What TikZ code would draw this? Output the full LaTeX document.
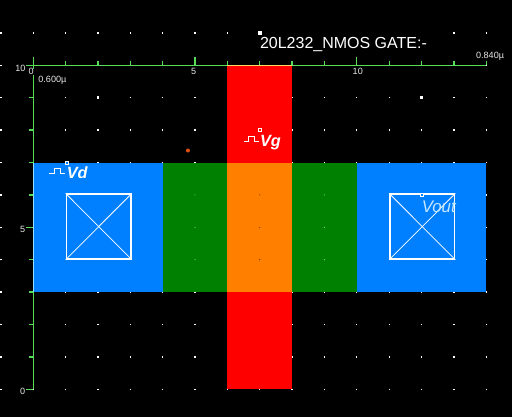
\documentclass[tikz,border=0pt]{standalone}
\usepackage{fontspec}
\setmainfont{Liberation Sans}
\usetikzlibrary{positioning}
\definecolor{difblue}{HTML}{0080FF}
\definecolor{chgreen}{HTML}{008000}
\definecolor{polyred}{HTML}{FF0000}
\definecolor{gateorange}{HTML}{FF8000}
\definecolor{rulergreen}{HTML}{55DD55}
\definecolor{voutblue}{HTML}{C4E8FF}
\definecolor{sparkred}{HTML}{E05010}
\definecolor{labelgrey}{HTML}{E8E8E8}
\begin{document}
\begin{tikzpicture}[
      x=24.26pt, y=24.3pt,
      griddot/.style={fill=white},
      ruler/.style={rulergreen, line width=1pt},
      contactbox/.style={draw=white, line width=1.1pt},
      contactcross/.style={white, line width=0.6pt},
      ticklabel/.style={text=labelgrey, inner sep=0pt, font=\fontsize{6.8}{8}\selectfont},
      portlabel/.style={text=white, inner sep=0pt, anchor=base west,
        font=\fontsize{12.2}{14}\selectfont\bfseries\itshape},
      handle/.style={draw=white, fill=#1, rectangle, inner sep=0pt, minimum size=2.4pt, line width=0.6pt},
      pulse/.pic={\draw[white, line width=0.75pt] (0,0) -- (3.7pt,0) -- (3.7pt,3.8pt)
        -- (8pt,3.8pt) -- (8pt,0) -- (11.7pt,0);}
    ]
      \useasboundingbox[fill=black] (-1.029,-0.855) rectangle (14.797,12.015);
      % grid of the layout editor
      \foreach \i in {-1,...,14}
        \foreach \j in {0,...,11}
          \fill[griddot] (\i,\j) ++(-0.5pt,-0.5pt) rectangle ++(1pt,1pt);
      \fill[griddot] (2,9) ++(-1pt,-1pt) rectangle ++(2pt,2pt);
      \fill[griddot] (12,9) ++(-1pt,-1pt) rectangle ++(2pt,2pt);

      % layers
      \fill[polyred] (6,0) rectangle (8,10);
      \fill[difblue] (0,3) rectangle (4,7);
      \fill[difblue] (10,3) rectangle (14,7);
      \fill[chgreen] (4,3) rectangle (6,7);
      \fill[chgreen] (8,3) rectangle (10,7);
      \fill[gateorange] (6,3) rectangle (8,7);
      \foreach \i in {5,9}
        \foreach \j in {4,5,6}
          \fill[green!55!white] (\i,\j) circle (0.4pt);
      \foreach \j in {4,5,6}
        \fill[black!70!gateorange] (7,\j) circle (0.4pt);

      % contacts
      \foreach \i/\n in {1/draincut, 11/sourcecut} {
        \node[contactbox, minimum width=48.52pt, minimum height=48.6pt, inner sep=0pt,
          anchor=south west] (\n) at (\i,4) {};
        \draw[contactcross] (\n.south west) -- (\n.north east);
        \draw[contactcross] (\n.north west) -- (\n.south east);
      }

      % rulers
      \draw[ruler] (0,0) -- (0,10) -- (14,10);
      \draw[gateorange!50!yellow!60!white, line width=1pt] (6,10) -- (8,10);
      \draw[cyan!40!white, line width=1pt] (0,3) -- (0,7);
      \foreach \i in {0,...,14}
        \draw[ruler] (\i,10) -- ++(0,3pt);
      \foreach \i in {0,5,10}
        \draw[ruler] (\i,10) -- ++(0,6pt);
      \foreach \j in {1,...,9}
        \draw[ruler] (0,\j) -- ++(-3pt,0);
      \foreach \j in {0,5,10}
        \draw[ruler] (0,\j) -- ++(-5.5pt,0);

      \node[ticklabel, fill=black] (xzero) at (-0.07,9.8) {0};
      \node[ticklabel] (xfive) at (4.96,9.82) {5};
      \node[ticklabel] (xten) at (10.03,9.82) {10};
      \node[ticklabel] (yzero) at (-0.33,-0.06) {0};
      \node[ticklabel] (yfive) at (-0.33,4.94) {5};
      \node[ticklabel] (yten) at (-0.4,9.92) {10};
      \node[ticklabel, anchor=west] (xstart) at (0.15,9.55) {0.600µ};
      \node[ticklabel, anchor=west] (xend) at (13.68,10.29) {0.840µ};

      \node[fill=black, inner sep=0pt, anchor=base west, text=white, text height=12.5pt,
        font=\fontsize{12}{14}\selectfont] (title) at (7,10.53) {20L232\_NMOS GATE:-};
      \node[handle=white] (titlemark) at (7,11) {};

      % ports
      \pic at (0.5,6.67) {pulse};
      \node[portlabel] (vd) at (1.03,6.5) {Vd};
      \node[handle=difblue] (vdmark) at (1.03,7) {};
      \pic at (6.5,7.65) {pulse};
      \node[portlabel] (vg) at (7,7.5) {Vg};
      \node[handle=polyred] (vgmark) at (7,8) {};
      \node[portlabel, text=voutblue, font=\fontsize{12.6}{14}\selectfont\itshape] (vout) at (12,5.47) {Vout};
      \node[handle=difblue] (voutmark) at (12,6) {};

      \fill[sparkred] (4.78,7.37) circle (1.5pt);
    \end{tikzpicture}
\end{document}
